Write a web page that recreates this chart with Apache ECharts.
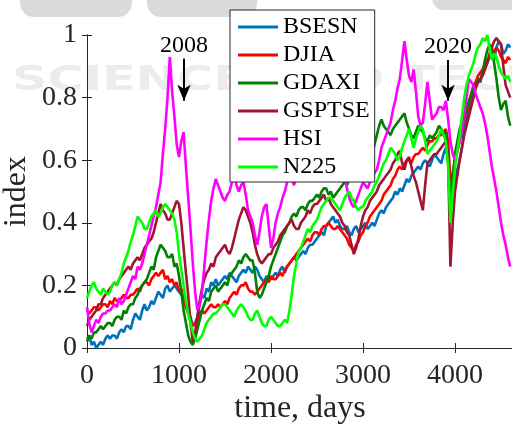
<!DOCTYPE html>
<html>
<head>
<meta charset="utf-8">
<script src="https://cdn.jsdelivr.net/npm/echarts@6/dist/echarts.min.js"></script>
<style>
  html, body { margin: 0; padding: 0; background: #fff; }
  #chart { width: 512px; height: 428px; }
</style>
</head>
<body>
<div id="chart"></div>
<script>
// sampling grid, trading days since start
const days = [
  0, 25, 50, 75, 100, 125, 150, 175,
  200, 225, 250, 275, 300, 325, 350, 375,
  400, 425, 450, 475, 500, 525, 550, 575,
  600, 625, 650, 675, 700, 725, 750, 775,
  800, 825, 850, 875, 900, 925, 950, 975,
  1000, 1025, 1050, 1075, 1100, 1125, 1150, 1175,
  1200, 1225, 1250, 1275, 1300, 1325, 1350, 1375,
  1400, 1425, 1450, 1475, 1500, 1525, 1550, 1575,
  1600, 1625, 1650, 1675, 1700, 1725, 1750, 1775,
  1800, 1825, 1850, 1875, 1900, 1925, 1950, 1975,
  2000, 2025, 2050, 2075, 2100, 2125, 2150, 2175,
  2200, 2225, 2250, 2275, 2300, 2325, 2350, 2375,
  2400, 2425, 2450, 2475, 2500, 2525, 2550, 2575,
  2600, 2625, 2650, 2675, 2700, 2725, 2750, 2775,
  2800, 2825, 2850, 2875, 2900, 2925, 2950, 2975,
  3000, 3025, 3050, 3075, 3100, 3125, 3150, 3175,
  3200, 3225, 3250, 3275, 3300, 3325, 3350, 3375,
  3400, 3425, 3450, 3475, 3500, 3525, 3550, 3575,
  3600, 3625, 3650, 3675, 3700, 3725, 3750, 3775,
  3800, 3825, 3850, 3875, 3900, 3925, 3950, 3975,
  4000, 4025, 4050, 4075, 4100, 4125, 4150, 4175,
  4200, 4225, 4250, 4275, 4300, 4325, 4350, 4375,
  4400, 4425, 4450, 4475, 4500, 4525, 4550, 4575,
  4600
];

const BSESN = [
  0.03,0.04, 0.01,0.02, 0.00,0.01, 0.02,0.01, 0.03,0.04, 0.03,0.04, 0.04,0.03, 0.05,0.06, 0.05,0.07, 0.07,0.06,
  0.09,0.11, 0.10,0.09, 0.12,0.14, 0.12,0.13, 0.15,0.14, 0.16,0.18, 0.17,0.16, 0.19,0.20, 0.18,0.19, 0.20,0.19,
  0.18,0.17, 0.16,0.14, 0.12,0.10, 0.07,0.08, 0.10,0.14, 0.17,0.16, 0.19,0.18, 0.21,0.20, 0.22,0.20, 0.21,0.22,
  0.23,0.22, 0.24,0.23, 0.22,0.21, 0.23,0.24, 0.25,0.24, 0.26,0.25, 0.24,0.26, 0.25,0.23, 0.22,0.21, 0.23,0.22,
  0.22,0.23, 0.24,0.23, 0.25,0.26, 0.24,0.26, 0.27,0.28, 0.29,0.28, 0.29,0.30, 0.31,0.30, 0.32,0.33, 0.33,0.34,
  0.35,0.36, 0.37,0.36, 0.39,0.40, 0.41,0.42, 0.40,0.41, 0.39,0.38, 0.38,0.39, 0.37,0.36, 0.38,0.39, 0.37,0.38,
  0.39,0.40, 0.38,0.39, 0.40,0.39, 0.41,0.43, 0.44,0.43, 0.45,0.46, 0.47,0.48, 0.50,0.49, 0.51,0.50, 0.52,0.54,
  0.53,0.55, 0.56,0.57, 0.58,0.57, 0.59,0.60, 0.59,0.58, 0.60,0.62, 0.61,0.60, 0.59,0.62, 0.64,0.60, 0.43,0.47,
  0.53,0.57, 0.60,0.64, 0.70,0.73, 0.76,0.78, 0.82,0.84, 0.86,0.85, 0.89,0.90, 0.91,0.93, 0.93,0.92, 0.96,0.98,
  0.97,0.94, 0.95,0.97, 0.96
];
const DJIA = [
  0.12,0.11, 0.12,0.13, 0.13,0.12, 0.13,0.14, 0.14,0.13, 0.15,0.14, 0.16,0.15, 0.15,0.16, 0.17,0.16, 0.16,0.17,
  0.17,0.18, 0.19,0.18, 0.20,0.21, 0.21,0.20, 0.22,0.23, 0.24,0.23, 0.24,0.25, 0.22,0.23, 0.21,0.22, 0.20,0.21,
  0.18,0.19, 0.15,0.13, 0.11,0.09, 0.07,0.08, 0.09,0.11, 0.12,0.11, 0.12,0.13, 0.14,0.13, 0.13,0.14, 0.13,0.14,
  0.15,0.14, 0.16,0.17, 0.18,0.17, 0.19,0.20, 0.20,0.21, 0.19,0.18, 0.18,0.17, 0.18,0.19, 0.20,0.21, 0.22,0.21,
  0.23,0.22, 0.22,0.23, 0.24,0.23, 0.25,0.26, 0.27,0.28, 0.29,0.30, 0.31,0.32, 0.33,0.34, 0.35,0.34, 0.36,0.37,
  0.37,0.36, 0.38,0.39, 0.39,0.40, 0.39,0.38, 0.38,0.39, 0.38,0.37, 0.36,0.35, 0.33,0.32, 0.31,0.33, 0.34,0.36,
  0.37,0.39, 0.40,0.42, 0.43,0.44, 0.45,0.46, 0.47,0.49, 0.50,0.51, 0.52,0.54, 0.55,0.57, 0.58,0.57, 0.59,0.60,
  0.60,0.59, 0.61,0.62, 0.62,0.63, 0.64,0.63, 0.65,0.66, 0.66,0.67, 0.67,0.68, 0.68,0.69, 0.70,0.66, 0.53,0.56,
  0.60,0.63, 0.66,0.70, 0.73,0.75, 0.78,0.81, 0.84,0.85, 0.87,0.88, 0.89,0.91, 0.92,0.93, 0.94,0.95, 0.96,0.95,
  0.93,0.92, 0.91,0.93, 0.92
];
const GDAXI = [
  0.02,0.04, 0.03,0.05, 0.05,0.06, 0.07,0.06, 0.07,0.08, 0.08,0.07, 0.09,0.10, 0.10,0.09, 0.12,0.11, 0.13,0.14,
  0.14,0.16, 0.17,0.19, 0.20,0.21, 0.22,0.24, 0.26,0.25, 0.29,0.31, 0.33,0.32, 0.31,0.29, 0.29,0.30, 0.26,0.27,
  0.23,0.18, 0.12,0.08, 0.04,0.02, 0.01,0.03, 0.06,0.09, 0.12,0.14, 0.16,0.15, 0.18,0.19, 0.20,0.18, 0.19,0.20,
  0.21,0.20, 0.23,0.24, 0.25,0.26, 0.28,0.27, 0.29,0.30, 0.29,0.28, 0.28,0.24, 0.18,0.16, 0.17,0.19, 0.21,0.23,
  0.26,0.28, 0.30,0.32, 0.34,0.36, 0.37,0.39, 0.40,0.42, 0.43,0.42, 0.44,0.45, 0.45,0.44, 0.46,0.47, 0.47,0.48,
  0.49,0.48, 0.50,0.51, 0.51,0.49, 0.50,0.48, 0.49,0.50, 0.51,0.52, 0.53,0.52, 0.54,0.55, 0.56,0.57, 0.58,0.56,
  0.57,0.55, 0.53,0.57, 0.62,0.65, 0.68,0.71, 0.73,0.71, 0.70,0.69, 0.68,0.70, 0.71,0.72, 0.73,0.74, 0.75,0.72,
  0.70,0.68, 0.67,0.69, 0.71,0.70, 0.69,0.67, 0.66,0.68, 0.67,0.68, 0.69,0.71, 0.70,0.68, 0.69,0.60, 0.46,0.54,
  0.62,0.66, 0.70,0.72, 0.74,0.76, 0.79,0.81, 0.83,0.84, 0.86,0.85, 0.88,0.92, 0.95,0.97, 0.96,0.91, 0.86,0.80,
  0.76,0.78, 0.79,0.74, 0.71
];
const GSPTSE = [
  0.07,0.09, 0.10,0.11, 0.12,0.14, 0.14,0.16, 0.17,0.18, 0.19,0.20, 0.21,0.20, 0.22,0.23, 0.24,0.25, 0.26,0.25,
  0.27,0.28, 0.29,0.28, 0.30,0.32, 0.33,0.34, 0.35,0.37, 0.40,0.43, 0.46,0.44, 0.43,0.41, 0.41,0.43, 0.45,0.47,
  0.46,0.40, 0.32,0.24, 0.17,0.08, 0.02,0.05, 0.10,0.15, 0.19,0.22, 0.24,0.25, 0.27,0.26, 0.29,0.30, 0.31,0.32,
  0.33,0.31, 0.30,0.32, 0.35,0.38, 0.41,0.43, 0.45,0.44, 0.42,0.40, 0.37,0.33, 0.30,0.28, 0.27,0.28, 0.29,0.30,
  0.30,0.32, 0.33,0.34, 0.36,0.37, 0.38,0.39, 0.40,0.41, 0.39,0.38, 0.38,0.40, 0.41,0.42, 0.44,0.43, 0.45,0.46,
  0.46,0.47, 0.48,0.49, 0.47,0.48, 0.46,0.45, 0.44,0.43, 0.42,0.40, 0.39,0.37, 0.36,0.33, 0.30,0.32, 0.35,0.39,
  0.42,0.44, 0.45,0.47, 0.48,0.49, 0.50,0.52, 0.53,0.54, 0.55,0.56, 0.57,0.59, 0.60,0.62, 0.63,0.59, 0.57,0.60,
  0.61,0.58, 0.55,0.53, 0.50,0.47, 0.44,0.52, 0.59,0.60, 0.61,0.62, 0.62,0.63, 0.64,0.65, 0.66,0.60, 0.26,0.40,
  0.50,0.55, 0.60,0.64, 0.68,0.71, 0.74,0.77, 0.80,0.83, 0.85,0.86, 0.87,0.89, 0.91,0.94, 0.96,0.98, 0.99,0.98,
  0.97,0.90, 0.84,0.82, 0.80
];
const HSI = [
  0.13,0.08, 0.05,0.07, 0.09,0.08, 0.10,0.11, 0.11,0.12, 0.12,0.13, 0.14,0.13, 0.16,0.14, 0.15,0.17, 0.19,0.21,
  0.23,0.22, 0.26,0.25, 0.27,0.30, 0.33,0.36, 0.39,0.42, 0.45,0.49, 0.53,0.62, 0.70,0.80, 0.93,0.82, 0.74,0.65,
  0.61,0.66, 0.69,0.58, 0.48,0.38, 0.27,0.18, 0.12,0.14, 0.18,0.26, 0.34,0.41, 0.47,0.51, 0.54,0.52, 0.50,0.48,
  0.47,0.49, 0.50,0.53, 0.55,0.52, 0.50,0.52, 0.53,0.49, 0.44,0.42, 0.40,0.36, 0.33,0.37, 0.42,0.45, 0.46,0.39,
  0.32,0.35, 0.40,0.43, 0.45,0.48, 0.50,0.53, 0.56,0.54, 0.52,0.55, 0.58,0.56, 0.55,0.57, 0.60,0.59, 0.58,0.60,
  0.62,0.61, 0.60,0.63, 0.65,0.64, 0.63,0.66, 0.68,0.65, 0.62,0.58, 0.55,0.51, 0.48,0.46, 0.45,0.47, 0.49,0.51,
  0.53,0.52, 0.51,0.53, 0.54,0.56, 0.57,0.60, 0.64,0.66, 0.68,0.70, 0.72,0.76, 0.79,0.83, 0.86,0.92, 0.98,0.92,
  0.87,0.85, 0.89,0.82, 0.74,0.71, 0.72,0.78, 0.85,0.79, 0.73,0.74, 0.75,0.77, 0.77,0.76, 0.79,0.73, 0.66,0.62,
  0.60,0.63, 0.66,0.70, 0.75,0.80, 0.86,0.85, 0.84,0.81, 0.79,0.77, 0.75,0.72, 0.68,0.63, 0.58,0.54, 0.50,0.45,
  0.40,0.36, 0.33,0.29, 0.26
];
const N225 = [
  0.16,0.18, 0.20,0.21, 0.19,0.18, 0.17,0.19, 0.18,0.17, 0.18,0.20, 0.21,0.20, 0.22,0.24, 0.27,0.29, 0.31,0.34,
  0.36,0.39, 0.42,0.41, 0.40,0.38, 0.38,0.40, 0.42,0.43, 0.44,0.42, 0.43,0.45, 0.46,0.45, 0.44,0.43, 0.41,0.37,
  0.30,0.25, 0.20,0.15, 0.11,0.08, 0.05,0.03, 0.02,0.03, 0.04,0.06, 0.08,0.09, 0.10,0.11, 0.11,0.12, 0.13,0.14,
  0.14,0.13, 0.12,0.11, 0.10,0.12, 0.13,0.14, 0.13,0.12, 0.10,0.09, 0.09,0.11, 0.12,0.10, 0.08,0.07, 0.07,0.09,
  0.10,0.09, 0.08,0.07, 0.07,0.08, 0.09,0.08, 0.12,0.17, 0.23,0.27, 0.31,0.32, 0.34,0.36, 0.38,0.37, 0.39,0.40,
  0.41,0.43, 0.45,0.46, 0.47,0.48, 0.48,0.47, 0.46,0.45, 0.44,0.46, 0.48,0.49, 0.50,0.48, 0.47,0.45, 0.44,0.45,
  0.45,0.47, 0.48,0.49, 0.50,0.52, 0.53,0.55, 0.57,0.59, 0.60,0.62, 0.64,0.63, 0.62,0.60, 0.61,0.64, 0.66,0.68,
  0.70,0.67, 0.64,0.67, 0.69,0.71, 0.70,0.66, 0.62,0.63, 0.64,0.65, 0.66,0.68, 0.70,0.68, 0.66,0.58, 0.40,0.49,
  0.58,0.63, 0.68,0.74, 0.80,0.84, 0.87,0.89, 0.91,0.94, 0.96,0.97, 0.99,0.98, 1.00,0.96, 0.92,0.94, 0.93,0.90,
  0.88,0.87, 0.86,0.87, 0.85
];

const names = ['BSESN', 'DJIA', 'GDAXI', 'GSPTSE', 'HSI', 'N225'];
const values = [BSESN, DJIA, GDAXI, GSPTSE, HSI, N225];
const colors = ['#0072BD', '#FF0000', '#007F00', '#A2142F', '#FF00FF', '#00FF00'];

// crisis annotations: label, day, arrow top / tip (index units)
const eventLabels = ['2008', '2020'];
const eventDays = [1054, 3924];
const eventFrom = [0.925, 0.92];
const eventTo = [0.79, 0.79];

const serif = '"Liberation Serif", "Times New Roman", serif';
const ink = '#262626';

const chart = echarts.init(document.getElementById('chart'), null, { renderer: 'canvas' });

const series = names.map((name, i) => ({
  name,
  type: 'line',
  symbol: 'none',
  lineStyle: { width: 2.6, color: colors[i] },
  itemStyle: { color: colors[i] },
  animation: false,
  data: days.map((d, k) => [d, values[i][k]])
}));

series.push({
  name: 'events',
  type: 'line',
  data: [],
  animation: false,
  markLine: {
    silent: true,
    animation: false,
    symbol: ['none', 'arrow'],
    symbolSize: [10, 16],
    lineStyle: { color: '#000', width: 2, type: 'solid' },
    label: {
      show: true,
      position: 'start',
      distance: 1,
      formatter: p => p.name,
      color: '#000',
      fontFamily: serif,
      fontSize: 24
    },
    data: eventLabels.map((label, i) => [
      { name: label, coord: [eventDays[i], eventFrom[i]] },
      { coord: [eventDays[i], eventTo[i]] }
    ])
  }
});

const boxAxis = {
  axisLine: { show: true, lineStyle: { color: ink, width: 1 } },
  axisTick: { show: true, inside: true, length: 5, lineStyle: { color: ink } },
  splitLine: { show: false }
};

// faint publisher watermark behind the plot
const watermark = [
  { type: 'rect', shape: { x: 20, y: -30, width: 112, height: 47, r: 14 }, style: { fill: '#dadada' } },
  { type: 'rect', shape: { x: 147, y: -30, width: 110, height: 47, r: 14 }, style: { fill: '#dadada' } },
  { type: 'rect', shape: { x: 432, y: -30, width: 90, height: 40, r: 12 }, style: { fill: '#dadada' } },
  {
    type: 'text', left: 12, top: 64, scaleX: 1.45,
    style: { text: 'SCIENCE AND TECHNOLOGY', fill: '#ececec', font: 'bold 34px "DejaVu Sans", sans-serif' }
  }
].map(g => ({ ...g, z: -10, silent: true }));

chart.setOption({
  backgroundColor: '#fff',
  animation: false,
  color: colors,
  graphic: watermark,
  grid: { left: 87, top: 35, width: 426, height: 313, outerBoundsMode: 'none' },
  legend: {
    data: names,
    orient: 'vertical',
    left: 230,
    top: 10,
    padding: [5, 5, 3, 8],
    itemGap: 4,
    itemWidth: 40,
    itemHeight: 3,
    icon: 'rect',
    backgroundColor: '#fff',
    borderColor: ink,
    borderWidth: 1,
    borderRadius: 0,
    textStyle: { fontFamily: serif, fontSize: 24, color: '#000', padding: [0, 0, 0, 0] }
  },
  xAxis: [{
    type: 'value',
    position: 'bottom',
    min: 0,
    max: 4630,
    interval: 1000,
    ...boxAxis,
    axisLabel: {
      fontFamily: serif, fontSize: 28, color: ink, margin: 14, showMaxLabel: false,
      formatter: v => String(v)
    },
    name: 'time, days',
    nameLocation: 'middle',
    nameGap: 45,
    nameMoveOverlap: false,
    nameTextStyle: { fontFamily: serif, fontSize: 32, color: ink }
  }, {
    type: 'value',
    position: 'top',
    min: 0,
    max: 4630,
    interval: 1000,
    ...boxAxis,
    axisLabel: { show: false }
  }],
  yAxis: [{
    type: 'value',
    position: 'left',
    min: 0,
    max: 1,
    interval: 0.2,
    ...boxAxis,
    axisLabel: {
      fontFamily: serif, fontSize: 28, color: ink, margin: 10,
      formatter: v => (v === 0 || v === 1) ? String(v) : v.toFixed(1)
    },
    name: 'index',
    nameLocation: 'middle',
    nameGap: 54,
    nameRotate: 90,
    nameMoveOverlap: false,
    nameTextStyle: { fontFamily: serif, fontSize: 32, color: ink }
  }, {
    type: 'value',
    position: 'right',
    min: 0,
    max: 1,
    interval: 0.2,
    ...boxAxis,
    axisLabel: { show: false }
  }],
  series
});
</script>
</body>
</html>
